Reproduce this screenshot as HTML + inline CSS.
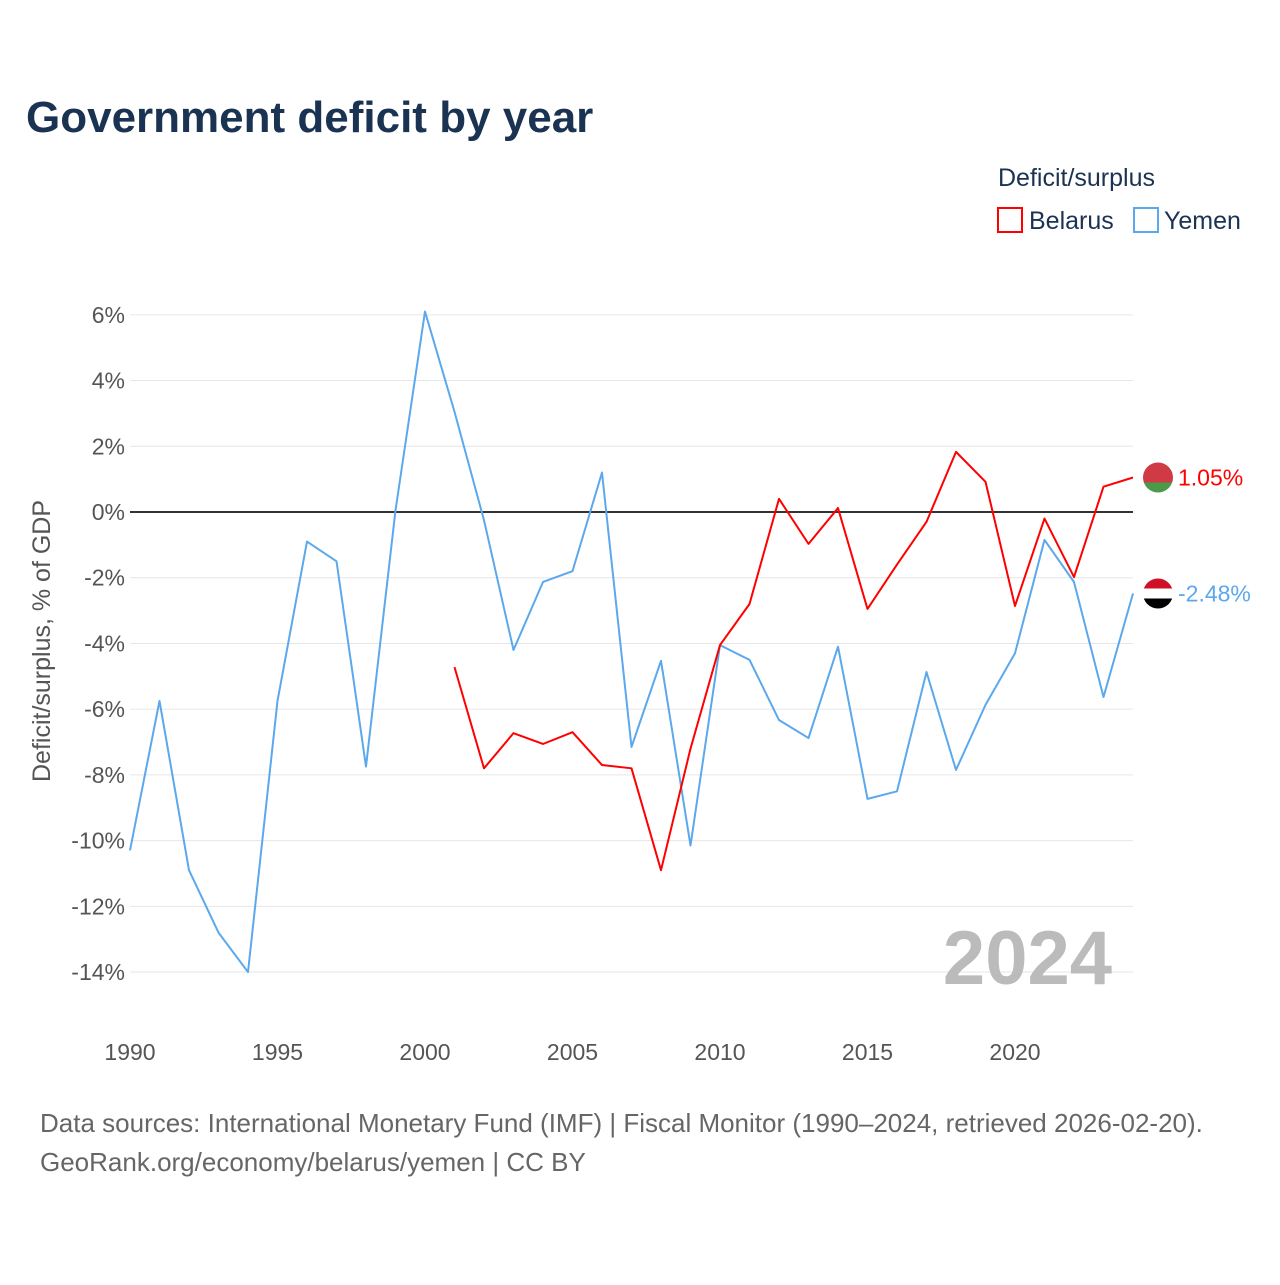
<!DOCTYPE html>
<html><head><meta charset="utf-8"><style>
body{margin:0;background:#fff;font-family:"Liberation Sans",sans-serif}
svg text{font-family:"Liberation Sans",sans-serif}
</style></head><body>
<svg id="chart" width="1280" height="1280" viewBox="0 0 1280 1280" xmlns="http://www.w3.org/2000/svg">
<rect width="1280" height="1280" fill="#fff"/>
<text x="26" y="132" font-size="44" font-weight="bold" fill="#1b3352">Government deficit by year</text>
<text x="998" y="186" font-size="25" fill="#1b3352">Deficit/surplus</text>
<g><rect x="998" y="208" width="24" height="24" fill="none" stroke="#f00" stroke-width="2"/><text x="1029" y="229" font-size="25" fill="#1b3352">Belarus</text></g>
<g><rect x="1134" y="208" width="24" height="24" fill="none" stroke="#5ba8ec" stroke-width="2"/><text x="1164" y="229" font-size="25" fill="#1b3352">Yemen</text></g>
<text transform="translate(50,641) rotate(-90)" text-anchor="middle" font-size="25" fill="#555">Deficit/surplus, % of GDP</text>
<g id="grid"></g><g id="series"></g>
<text x="1112" y="984" text-anchor="end" font-size="76" font-weight="bold" fill="#bbb">2024</text>
<text x="40" y="1132" font-size="26" fill="#666">Data sources: International Monetary Fund (IMF) | Fiscal Monitor (1990–2024, retrieved 2026-02-20).</text>
<text x="40" y="1171" font-size="26" fill="#666">GeoRank.org/economy/belarus/yemen | CC BY</text>
</svg>
<script>
const years=[];for(let y=1990;y<=2024;y++)years.push(y);
const yemen=[-10.3,-5.75,-10.9,-12.8,-14.0,-5.75,-0.9,-1.5,-7.75,0.05,6.1,3.05,-0.25,-4.2,-2.13,-1.8,1.2,-7.15,-4.53,-10.15,-4.05,-4.5,-6.33,-6.88,-4.1,-8.73,-8.5,-4.87,-7.85,-5.87,-4.3,-0.85,-2.13,-5.63,-2.48];
const belarusYears=[2001,2002,2003,2004,2005,2006,2007,2008,2009,2010,2011,2012,2013,2014,2015,2016,2017,2018,2019,2020,2021,2022,2023,2024];
const belarus=[-4.72,-7.8,-6.73,-7.06,-6.7,-7.7,-7.8,-10.9,-7.2,-4.05,-2.8,0.4,-0.97,0.12,-2.95,-1.6,-0.3,1.83,0.92,-2.86,-0.2,-1.98,0.77,1.05];
const yTicks=[6,4,2,0,-2,-4,-6,-8,-10,-12,-14];
const xTicks=[1990,1995,2000,2005,2010,2015,2020];
const NS="http://www.w3.org/2000/svg";
const X=v=>130+(v-1990)*(1133-130)/34;
const Y=v=>512-v*32.86;
function mk(t,a,p){const e=document.createElementNS(NS,t);for(const k in a)e.setAttribute(k,a[k]);p.appendChild(e);return e;}
const g=document.getElementById('grid'),s=document.getElementById('series');
yTicks.forEach(t=>{
 const l=mk('line',{x1:130,x2:1133,y1:Y(t),y2:Y(t),stroke:t===0?'#333':'#e6e6e6','stroke-width':t===0?2:1},g);
 
 
 const tx=mk('text',{x:125,y:Y(t)+8,'text-anchor':'end','font-size':23,fill:'#555'},g);tx.textContent=t+'%';
 
 
});
xTicks.forEach(t=>{
 const tx=mk('text',{x:X(t),y:1060,'text-anchor':'middle','font-size':23,fill:'#555'},g);tx.textContent=t;
 
 
});
function line(xs,vs,c,name){
 const p=mk('polyline',{points:xs.map((x,i)=>X(x)+','+Y(vs[i])).join(' '),fill:'none',stroke:c,'stroke-width':2,'stroke-linejoin':'round'},s);
 
 
}
line(years,yemen,'#5ba8ec','yemen-line');
line(belarusYears,belarus,'#f00','belarus-line');
function endLabel(v,c,name,cols){
 const y=Y(v),gr=mk('g',{},s);
 
 
 const cid='c'+name;const cp=mk('clipPath',{id:cid},gr);mk('circle',{cx:1158,cy:y,r:15},cp);
 cols.forEach((cl,i)=>mk('rect',{x:1143,y:y-15+i*30/cols.length,width:30,height:30/cols.length+0.5,fill:cl,'clip-path':'url(#'+cid+')'},gr));
 const t=mk('text',{x:1178,y:y+8,'font-size':23,fill:c},gr);t.textContent=v.toFixed(2)+'%';
}
endLabel(belarus[belarus.length-1],'#f00','belarus-end-label',['#cf3a45','#cf3a45','#4a9a4a']);
endLabel(yemen[yemen.length-1],'#5ba8ec','yemen-end-label',['#ce1126','#ffffff','#000000']);
</script>
</body></html>
